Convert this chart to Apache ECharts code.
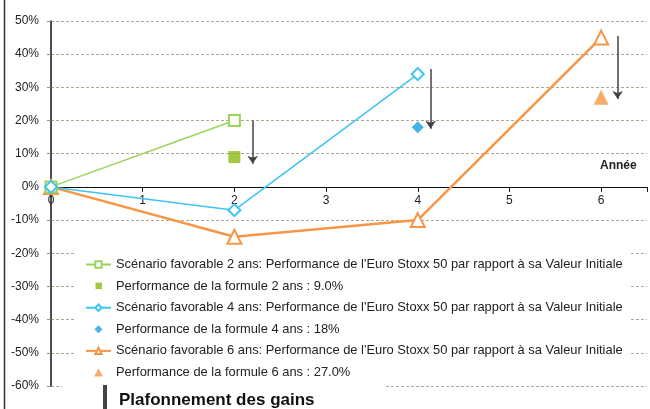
<!DOCTYPE html>
<html>
<head>
<meta charset="utf-8">
<script src="https://cdn.jsdelivr.net/npm/echarts@6/dist/echarts.min.js"></script>
<style>html,body{margin:0;padding:0;background:#fff}#c{width:650px;height:409px}</style>
</head>
<body>
<div id="c"></div>
<script>
// Data
const yearTicks = [0, 1, 2, 3, 4, 5, 6];
const years2 = [0, 2];
const scenario2 = [0, 20];
const years4 = [0, 2, 4];
const scenario4 = [0, -7, 34];
const years6 = [0, 2, 4, 6];
const scenario6 = [0, -15, -10, 45];
const formulaYears = [2, 4, 6];
const formulaValues = [9, 18, 27];
const capX = [2.2, 4.14, 6.18];
const capFrom = [20, 35.5, 45.5];
const capTo = [7, 17.5, 26.5];
const names = [
  "Scénario favorable 2 ans: Performance de l'Euro Stoxx 50 par rapport à sa Valeur Initiale",
  "Performance de la formule 2 ans : 9.0%",
  "Scénario favorable 4 ans: Performance de l'Euro Stoxx 50 par rapport à sa Valeur Initiale",
  "Performance de la formule 4 ans : 18%",
  "Scénario favorable 6 ans: Performance de l'Euro Stoxx 50 par rapport à sa Valeur Initiale",
  "Performance de la formule 6 ans : 27.0%",
  "Plafonnement des gains"
];
const Y_MIN = -60, Y_MAX = 50;

const GREEN = '#9ad35c', GREEN_F = '#8cbc14';
const BLUE = '#3cc4f4', BLUE_F = '#1a9ede';
const ORANGE = '#f79646';
const FONT = '"Liberation Sans", Arial, sans-serif';

// small legend icons (bounding box 25x8 kept so the mark stays small)
const BOX = 'M0,0L0,0M25,8L25,8';
const ICON_SQ = 'path://' + BOX + 'M9.5,0.5h6.5v6.5h-6.5z';
const ICON_DIA = 'path://' + BOX + 'M12.5,0L16.5,4L12.5,8L8.5,4Z';
const ICON_TRI = 'path://' + BOX + 'M12.5,0L17,8L8,8Z';

const zip = (xs, ys) => xs.map((x, i) => [x, ys[i]]);

const GRID_TOP = 21, GRID_BOTTOM = 23, H = 409;
const plotH = H - GRID_TOP - GRID_BOTTOM;
const xOffset = -plotH * (0 - Y_MIN) / (Y_MAX - Y_MIN);

const chart = echarts.init(document.getElementById('c'), null, {renderer: 'canvas'});
chart.setOption({
  animation: false,
  textStyle: {fontFamily: FONT},
  grid: {left: 51, right: 0, top: GRID_TOP, bottom: GRID_BOTTOM},
  xAxis: {
    type: 'value', min: 0, max: 6.5, interval: 1, position: 'bottom', offset: xOffset,
    axisLine: {onZero: false, lineStyle: {color: '#111', width: 1.2}},
    axisTick: {show: true, length: 5, lineStyle: {color: '#111'}},
    axisLabel: {color: '#222', fontSize: 12, margin: 8, fontFamily: FONT,
      formatter: v => (Number.isInteger(v) && yearTicks.includes(v)) ? String(v) : ''},
    splitLine: {show: false}
  },
  yAxis: {
    type: 'value', min: Y_MIN, max: Y_MAX, interval: 10,
    axisLine: {show: true, onZero: false, lineStyle: {color: '#111', width: 1.5}},
    axisTick: {show: true, length: 4, lineStyle: {color: '#9a8a7a'}},
    axisLabel: {color: '#222', fontSize: 12, margin: 12, fontFamily: FONT, formatter: '{value}%'},
    splitLine: {show: true, lineStyle: {color: '#b5a593', type: [3, 2], width: 1}}
  },
  legend: [
    {
      orient: 'vertical', left: 75, top: 250,
      padding: [8, 7, 5, 10],
      backgroundColor: '#fff',
      itemWidth: 25, itemHeight: 8, itemGap: 8.6,
      textStyle: {fontSize: 12.9, color: '#222', fontFamily: FONT},
      data: [
        {name: names[0]},
        {name: names[1], icon: ICON_SQ},
        {name: names[2]},
        {name: names[3], icon: ICON_DIA},
        {name: names[4]},
        {name: names[5], icon: ICON_TRI}
      ],
      selectedMode: false
    },
    {
      orient: 'vertical', left: 62, top: 378,
      padding: [7, 70, 10, 41],
      backgroundColor: '#fff',
      itemWidth: 2, itemHeight: 28,
      textStyle: {fontSize: 17, fontWeight: 'bold', color: '#111', fontFamily: FONT, padding: [0, 0, 0, 8]},
      data: [{name: names[6], icon: 'rect', itemStyle: {color: '#444'}}],
      selectedMode: false
    }
  ],
  graphic: [
    {type: 'line', shape: {x1: 4.5, y1: 0, x2: 4.5, y2: 409}, style: {stroke: '#333', lineWidth: 1.5}, z: 10},
    {type: 'text', left: 600, top: 160, style: {text: 'Année', fontSize: 12, fontWeight: 'bold', fill: '#222', fontFamily: FONT}, z: 10}
  ],
  series: [
    {name: names[0], type: 'line', data: zip(years2, scenario2), color: GREEN,
      symbol: 'emptyRect', symbolSize: 11, lineStyle: {width: 1.5, color: GREEN},
      itemStyle: {borderColor: GREEN, borderWidth: 1.5}, z: 3},
    {name: names[1], type: 'scatter', data: zip([formulaYears[0]], [formulaValues[0]]), color: GREEN_F,
      symbol: 'rect', symbolSize: 12, z: 3},
    {name: names[2], type: 'line', data: zip(years4, scenario4), color: BLUE,
      symbol: 'emptyDiamond', symbolSize: 12, lineStyle: {width: 1.5, color: BLUE},
      itemStyle: {borderColor: BLUE, borderWidth: 1.5}, z: 3},
    {name: names[3], type: 'scatter', data: zip([formulaYears[1]], [formulaValues[1]]), color: BLUE_F,
      symbol: 'diamond', symbolSize: 12, z: 3},
    {name: names[4], type: 'line', data: zip(years6, scenario6), color: ORANGE,
      symbol: 'emptyTriangle', symbolSize: 14, lineStyle: {width: 2.5, color: ORANGE},
      itemStyle: {borderColor: ORANGE, borderWidth: 1.5}, z: 2},
    {name: names[5], type: 'scatter', data: zip([formulaYears[2]], [formulaValues[2]]), color: ORANGE,
      symbol: 'triangle', symbolSize: 15, z: 3},
    {name: names[6], type: 'lines', coordinateSystem: 'cartesian2d', color: '#444',
      symbol: ['none', 'arrow'], symbolSize: 8,
      lineStyle: {color: '#444', width: 1.5, opacity: 1},
      data: capX.map((x, i) => ({coords: [[x, capFrom[i]], [x, capTo[i]]]})), z: 4}
  ]
});
</script>
</body>
</html>
